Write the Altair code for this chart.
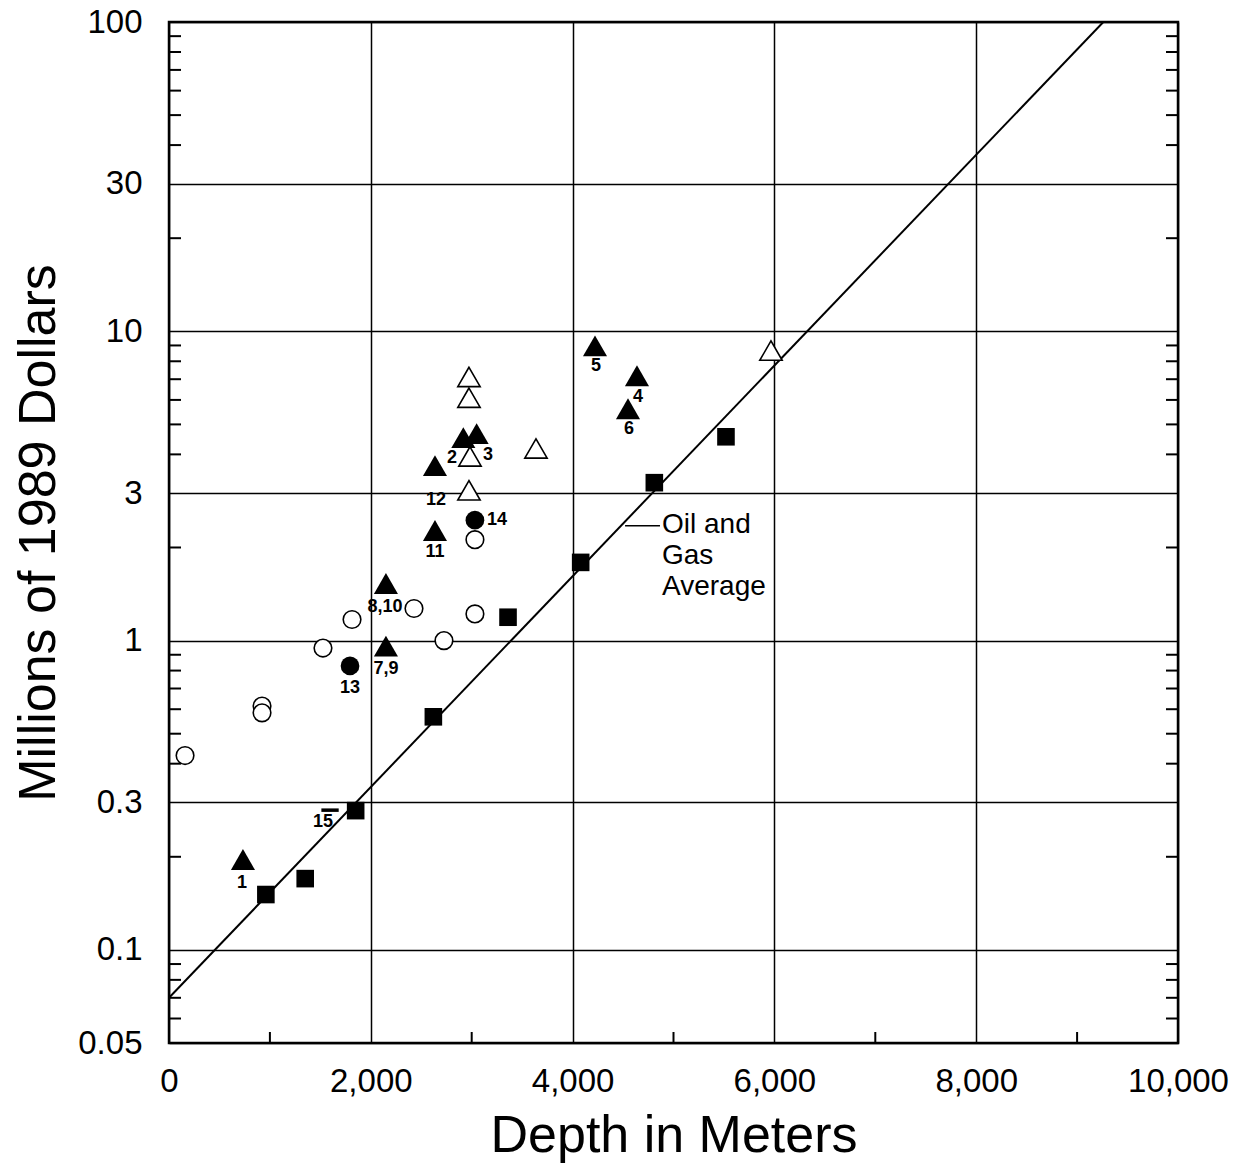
import altair as alt
import pandas as pd

# ---------------- data ----------------
# Oil and gas average (filled squares)
sq_depth = [960, 1350, 1850, 2620, 3360, 4080, 4810, 5520]
sq_cost = [0.151, 0.17, 0.282, 0.567, 1.19, 1.79, 3.24, 4.56]

# Filled triangles (numbered)
ftri_depth = [733, 2917, 3049, 4638, 4222, 4549, 2150, 2150, 2636, 2636]
ftri_cost = [0.196, 4.53, 4.67, 7.18, 8.97, 5.62, 0.96, 1.53, 2.27, 3.68]

# Open triangles
otri_depth = [2973, 2973, 2983, 2973, 3637, 5966]
otri_cost = [7.12, 6.1, 3.94, 3.06, 4.18, 8.66]

# Open circles
ocirc_depth = [159, 922, 922, 1526, 1814, 2428, 2725, 3032, 3032]
ocirc_cost = [0.425, 0.614, 0.584, 0.946, 1.17, 1.27, 1.0, 1.22, 2.12]

# Filled circles (13, 14)
fcirc_depth = [1794, 3032]
fcirc_cost = [0.828, 2.45]

# Dash marker (15)
dash_depth = [1596]
dash_cost = [0.283]

# Average line end points
line_depth = [0, 9260]
line_cost = [0.07, 100]

# Point labels
label_text = ["1", "2", "3", "4", "5", "6", "7,9", "8,10", "11", "12", "13", "14", "15"]
label_depth = [723, 2805, 3161, 4648, 4232, 4559, 2150, 2141, 2636, 2646, 1794, 3250, 1526]
label_cost = [0.164, 3.88, 3.99, 6.14, 7.73, 4.84, 0.81, 1.28, 1.94, 2.84, 0.703, 2.45, 0.26]

# Annotation
annot_text = ["Oil and", "Gas", "Average"]
annot_depth = [4886]
annot_cost = [2.36]
lead_depth = [4520]
lead_depth2 = [4866]
lead_cost = [2.35]

# Axis values
x_major = [0, 2000, 4000, 6000, 8000, 10000]
x_minor = [1000, 3000, 5000, 7000, 9000]
y_major = [0.05, 0.1, 0.3, 1, 3, 10, 30, 100]
y_minor = [0.06, 0.07, 0.08, 0.09, 0.2, 0.4, 0.5, 0.6, 0.7, 0.8, 0.9,
           2, 4, 5, 6, 7, 8, 9, 20, 40, 50, 60, 70, 80, 90]

# ---------------- chart ----------------
W, H = 1009, 1021
FONT = "Liberation Sans"

xscale = alt.Scale(domain=[0, 10000], nice=False, zero=False)
yscale = alt.Scale(type="log", domain=[0.05, 100], nice=False)

xaxis = alt.Axis(values=x_major, labelExpr="format(datum.value, ',')", grid=True,
                 ticks=False, tickSize=0,
                 domain=False, labelFontSize=33, labelPadding=22, labelFlush=False,
                 labelOverlap=False, title="Depth in Meters", titleFontSize=52,
                 titleFontWeight="normal", titleY=108, titleBaseline="alphabetic")
yaxis = alt.Axis(values=y_major, labelExpr="format(datum.value, '~g')", grid=True,
                 ticks=False, tickSize=0,
                 domain=False, labelFontSize=33, labelPadding=27, labelFlush=False,
                 labelOverlap=False, title="Millions of 1989 Dollars", titleFontSize=52,
                 titleFontWeight="normal", titleAngle=270, titleX=-115,
                 titleBaseline="alphabetic")


def X(f="depth"):
    return alt.X(f"{f}:Q", scale=xscale, axis=xaxis)


def Y(f="cost"):
    return alt.Y(f"{f}:Q", scale=yscale, axis=yaxis)


def df(d, c):
    return pd.DataFrame({"depth": d, "cost": c})


line = alt.Chart(df(line_depth, line_cost)).mark_line(
    color="black", strokeWidth=2, clip=True).encode(x=X(), y=Y())

squares = alt.Chart(df(sq_depth, sq_cost)).mark_point(
    shape="square", filled=True, color="black", size=310, opacity=1).encode(x=X(), y=Y())

ftri = alt.Chart(df(ftri_depth, ftri_cost)).mark_point(
    shape="triangle-up", filled=True, color="black", size=580, opacity=1).encode(x=X(), y=Y())

otri = alt.Chart(df(otri_depth, otri_cost)).mark_point(
    shape="triangle-up", filled=True, fill="white", stroke="black", strokeWidth=1.6,
    size=500, opacity=1).encode(x=X(), y=Y())

ocirc = alt.Chart(df(ocirc_depth, ocirc_cost)).mark_point(
    shape="circle", filled=True, fill="white", stroke="black", strokeWidth=1.6,
    size=310, opacity=1).encode(x=X(), y=Y())

fcirc = alt.Chart(df(fcirc_depth, fcirc_cost)).mark_point(
    shape="circle", filled=True, color="black", size=350, opacity=1).encode(x=X(), y=Y())

dash = alt.Chart(df(dash_depth, dash_cost)).mark_point(
    shape="stroke", color="black", strokeWidth=3.5, size=300, opacity=1).encode(x=X(), y=Y())

labels = alt.Chart(pd.DataFrame({"depth": label_depth, "cost": label_cost, "t": label_text})).mark_text(
    font=FONT, fontSize=18, fontWeight="bold", align="center", baseline="middle", color="black"
).encode(x=X(), y=Y(), text="t:N")

annot = alt.Chart(df(annot_depth, annot_cost)).mark_text(
    font=FONT, fontSize=28, align="left", baseline="middle", lineHeight=31,
    color="black", text=annot_text).encode(x=X(), y=Y())

leader = alt.Chart(pd.DataFrame({"depth": lead_depth, "depth2": lead_depth2, "cost": lead_cost})).mark_rule(
    color="black", strokeWidth=1.5).encode(x=X(), x2=alt.X2("depth2:Q"), y=Y())

ydf = pd.DataFrame({"cost": y_minor})
left_ticks = alt.Chart(ydf).mark_rule(color="black", strokeWidth=2).encode(
    y=Y(), x=alt.value(0), x2=alt.value(12))
right_ticks = alt.Chart(ydf).mark_rule(color="black", strokeWidth=2).encode(
    y=Y(), x=alt.value(W - 12), x2=alt.value(W))
xdf = pd.DataFrame({"depth": x_minor})
bottom_ticks = alt.Chart(xdf).mark_rule(color="black", strokeWidth=2).encode(
    x=X(), y=alt.value(H - 11), y2=alt.value(H))

chart = alt.layer(
    left_ticks, right_ticks, bottom_ticks, line, leader, squares, ocirc, otri,
    ftri, fcirc, dash, labels, annot
).properties(
    width=W, height=H,
    autosize=alt.AutoSizeParams(type="none"),
    padding={"left": 169, "top": 22, "right": 67, "bottom": 124},
    background="white",
).configure_view(
    stroke="black", strokeWidth=2.5
).configure_axis(
    gridColor="black", gridWidth=1.5, gridOpacity=1,
    labelFont=FONT, titleFont=FONT, labelColor="black", titleColor="black"
)

chart.save("out.html", embed_options={"renderer": "svg", "actions": False})
